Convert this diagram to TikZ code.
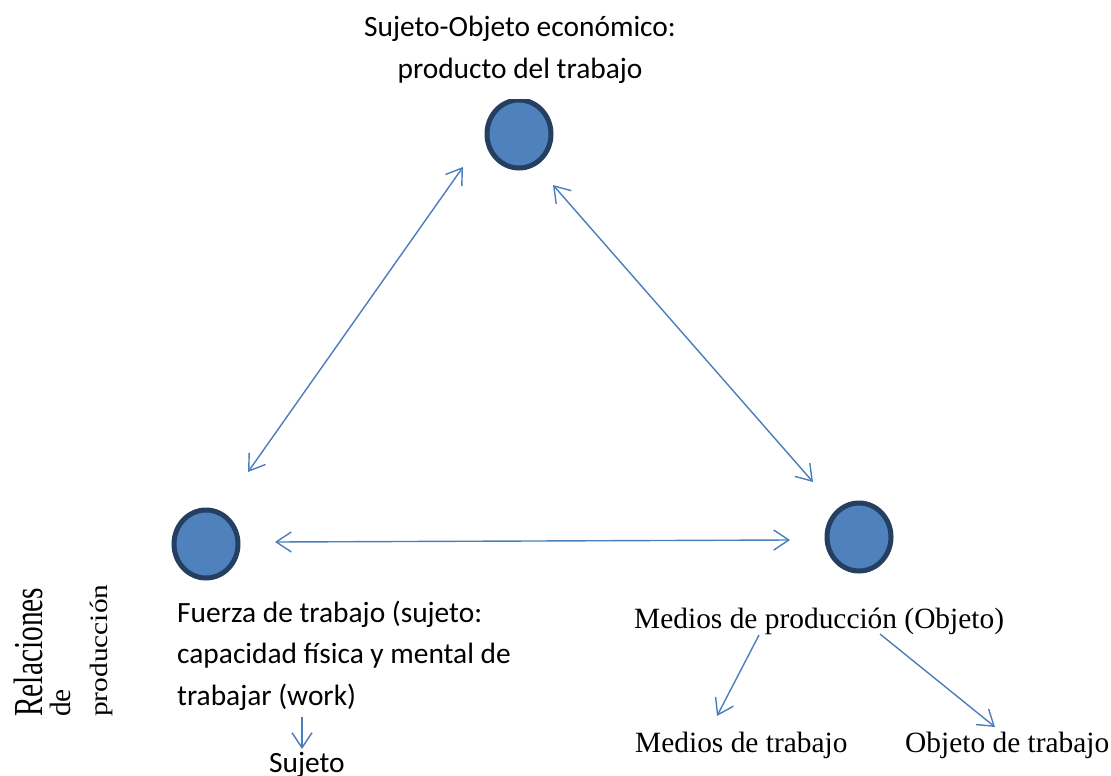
\documentclass[tikz,border=0pt]{standalone}
\usepackage{fontspec}
\setmainfont{Liberation Serif}
\newfontfamily\calib{Carlito}
\usetikzlibrary{arrows.meta,shapes.geometric}
\definecolor{arr}{HTML}{4A7EBB}
\definecolor{cfill}{HTML}{4F81BD}
\definecolor{cdraw}{HTML}{243F60}
\tikzset{
  dot/.style={ellipse, minimum width=64pt, minimum height=68pt, inner sep=0pt, fill=cfill, draw=cdraw, line width=5pt},
  conn/.style={draw=arr, line width=1.4pt, -{Straight Barb[length=15pt,width=20pt,line width=1.4pt]}},
  biconn/.style={draw=arr, line width=1.4pt, {Straight Barb[length=15pt,width=20pt,line width=1.4pt]}-{Straight Barb[length=15pt,width=20pt,line width=1.4pt]}},
  cal/.style={font=\calib\fontsize{29.4}{41.5}\selectfont, inner sep=0pt},
  tim/.style={font=\fontsize{29.4}{30}\selectfont, inner sep=0pt},
}
\begin{document}
\begin{tikzpicture}[x=1pt,y=-1pt]
\useasboundingbox (0,0) rectangle (1111,776);
\begin{scope}
\clip (0,99) rectangle (1111,776);
\node[dot] (top) at (519,134) {};
\end{scope}
\node[dot] (left) at (206,544) {};
\node[dot] (right) at (859,537) {};

\node[cal, anchor=base, align=center] (ttop) at (520,78) {Sujeto-Objeto económico:\\producto del trabajo};
\node[cal, anchor=base west, align=left] (tleft) at (177,705) {Fuerza de trabajo (sujeto:\\capacidad física y mental de\\trabajar (work)};
\node[cal, anchor=base] (tsuj) at (307,772) {Sujeto};
\node[tim, anchor=base west] (tmed) at (634,628) {Medios de producción (Objeto)};
\node[tim, anchor=base west] (tmt) at (635,752) {Medios de trabajo};
\node[tim, anchor=base west] (tot) at (905,752) {Objeto de trabajo};
\node[tim, anchor=base west, rotate=90, yscale=1.4] (r1) at (42,717) {Relaciones};
\node[tim, anchor=base west, rotate=90] (r2) at (70,717) {de};
\node[tim, anchor=base west, rotate=90, yscale=0.85] (r3) at (107,717) {producción};

\coordinate (a1) at (463,167);
\coordinate (a2) at (248,472);
\coordinate (b1) at (553,185);
\coordinate (b2) at (813,482);
\coordinate (c1) at (275,542);
\coordinate (c2) at (790,540);
\coordinate (d1) at (759,635);
\coordinate (d2) at (717,716);
\coordinate (e1) at (880,634);
\coordinate (e2) at (995,727);
\coordinate (f1) at (302,717);
\coordinate (f2) at (302,749);

\draw[biconn] (a1) -- (a2);
\draw[biconn] (b1) -- (b2);
\draw[biconn] (c1) -- (c2);
\draw[conn] (d1) -- (d2);
\draw[conn] (e1) -- (e2);
\draw[conn] (f1) -- (f2);
\end{tikzpicture}
\end{document}
